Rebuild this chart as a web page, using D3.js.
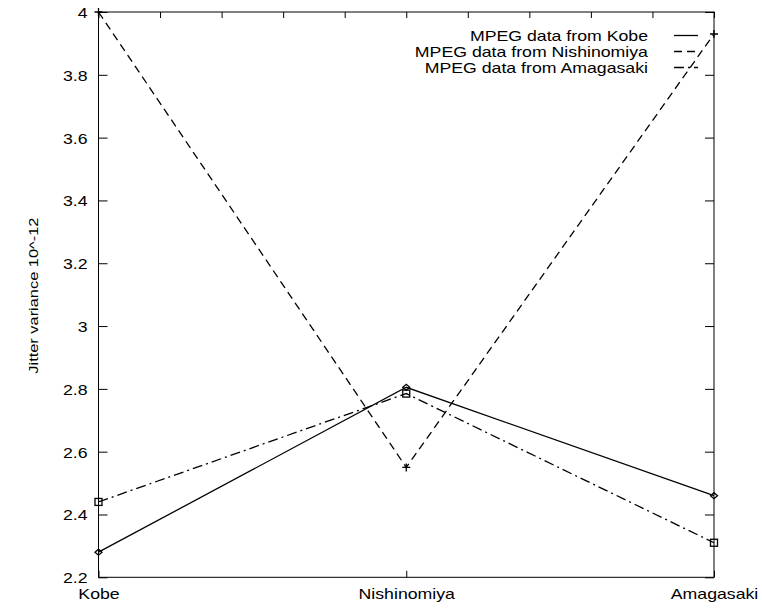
<!DOCTYPE html>
<html>
<head>
<meta charset="utf-8">
<script src="https://cdn.jsdelivr.net/npm/d3@7/dist/d3.min.js"></script>
<style>
  html, body { margin: 0; padding: 0; background: #fff; }
  svg { display: block; font-family: "Liberation Sans", Arial, Helvetica, sans-serif; }
</style>
</head>
<body>
<svg id="chart" width="762" height="609"></svg>
<script>
// Measurement sites (x categories)
const sites = ["Kobe", "Nishinomiya", "Amagasaki"];

// Jitter variance (x 10^-12) per data source
const kobeValues = [2.28, 2.805, 2.46];
const nishinomiyaValues = [4.0, 2.55, 3.93];
const amagasakiValues = [2.44, 2.785, 2.31];

const seriesNames = ["MPEG data from Kobe", "MPEG data from Nishinomiya", "MPEG data from Amagasaki"];

const yTicks = [2.2, 2.4, 2.6, 2.8, 3, 3.2, 3.4, 3.6, 3.8, 4];
const yLabel = "Jitter variance 10^-12";

const series = [
  { name: seriesNames[0], values: kobeValues, dash: null, marker: "diamond" },
  { name: seriesNames[1], values: nishinomiyaValues, dash: "8,5", marker: "plus" },
  { name: seriesNames[2], values: amagasakiValues, dash: "10,4,2,4", marker: "square" }
];

const FONT = "Liberation Sans, Arial, sans-serif";
const svg = d3.select("#chart");
const plotLeft = 98.5, plotRight = 714, plotTop = 12, plotBottom = 577.3;

const x = d3.scaleLinear().domain([0, sites.length - 1]).range([plotLeft, plotRight]);
const y = d3.scaleLinear().domain([2.2, 4]).range([plotBottom, plotTop]);

// Widen text horizontally (wide Helvetica-style lettering)
function widen(sel, factor) {
  sel.each(function () {
    const len = this.getComputedTextLength();
    d3.select(this).attr("textLength", len * factor).attr("lengthAdjust", "spacingAndGlyphs");
  });
}

const g = svg.append("g");

// Frame
g.append("rect")
  .attr("x", plotLeft).attr("y", plotTop)
  .attr("width", plotRight - plotLeft).attr("height", plotBottom - plotTop)
  .attr("fill", "none").attr("stroke", "#000").attr("stroke-width", 1);

// Left y axis with inward ticks
const yAxisL = g.append("g").attr("transform", `translate(${plotLeft},0)`)
  .call(d3.axisLeft(y).tickValues(yTicks).tickSize(-9).tickPadding(11)
    .tickFormat(d => d3.format("~g")(d)));
yAxisL.select(".domain").remove();
yAxisL.selectAll("text").attr("font-size", 15).attr("fill", "#000").attr("dy", "0.36em")
  .style("font-family", FONT);

// Right mirror ticks
const yAxisR = g.append("g").attr("transform", `translate(${plotRight},0)`)
  .call(d3.axisRight(y).tickValues(yTicks).tickSize(-9).tickFormat(""));
yAxisR.select(".domain").remove();

// Bottom x axis: category labels with inward ticks
const xAxisB = g.append("g").attr("transform", `translate(0,${plotBottom})`)
  .call(d3.axisBottom(x).tickValues(d3.range(sites.length)).tickSize(-6.5).tickPadding(0)
    .tickFormat(i => sites[i]));
xAxisB.select(".domain").remove();
xAxisB.selectAll("text").attr("font-size", 15).attr("fill", "#000")
  .attr("y", 22).attr("dy", 0)
  .style("font-family", FONT);

// Top mirror ticks at 0.2 steps
const topTicks = d3.range(0, 2.0001, 0.2);
const xAxisT = g.append("g").attr("transform", `translate(0,${plotTop})`)
  .call(d3.axisTop(x).tickValues(topTicks).tickSize(-6).tickFormat(""));
xAxisT.select(".domain").remove();

g.selectAll(".tick line").attr("stroke", "#000");

// Y axis title
const yTitle = svg.append("text")
  .attr("transform", `translate(37.5,${(plotTop + plotBottom) / 2 + 1}) rotate(-90)`)
  .attr("text-anchor", "middle")
  .attr("font-size", 12)
  .attr("fill", "#000")
  .text(yLabel);

// Lines
const line = d3.line().x((d, i) => x(i)).y(d => y(d));

series.forEach(s => {
  g.append("path")
    .datum(s.values)
    .attr("d", line)
    .attr("fill", "none")
    .attr("stroke", "#000")
    .attr("stroke-width", 1.3)
    .attr("stroke-dasharray", s.dash);
});

// Point markers
function drawMarker(sel, type, cx, cy) {
  if (type === "diamond") {
    sel.append("path")
      .attr("d", `M${cx - 3.5},${cy} L${cx},${cy - 3} L${cx + 3.5},${cy} L${cx},${cy + 3} Z`)
      .attr("fill", "none").attr("stroke", "#000").attr("stroke-width", 1.3);
  } else if (type === "square") {
    sel.append("rect")
      .attr("x", cx - 3.5).attr("y", cy - 3.5).attr("width", 7).attr("height", 7)
      .attr("fill", "none").attr("stroke", "#000").attr("stroke-width", 1.3);
  } else if (type === "plus") {
    sel.append("path")
      .attr("d", `M${cx - 4},${cy} H${cx + 4} M${cx},${cy - 4} V${cy + 4}`)
      .attr("fill", "none").attr("stroke", "#000").attr("stroke-width", 1.3);
  }
}

series.forEach(s => {
  s.values.forEach((v, i) => drawMarker(g, s.marker, x(i), y(v)));
});

// Legend
const legend = svg.append("g");
series.forEach((s, i) => {
  const ly = 35.5 + i * 16;
  legend.append("text")
    .attr("x", 648).attr("y", ly).attr("dy", "0.36em")
    .attr("text-anchor", "end")
    .attr("font-size", 15)
    .attr("fill", "#000")
    .text(s.name);
  legend.append("line")
    .attr("x1", 674).attr("x2", 698)
    .attr("y1", ly).attr("y2", ly)
    .attr("stroke", "#000").attr("stroke-width", 1.3)
    .attr("stroke-dasharray", s.dash);
});

widen(svg.selectAll(".tick text"), 1.18);
widen(legend.selectAll("text"), 1.18);
yTitle.attr("textLength", 156).attr("lengthAdjust", "spacingAndGlyphs");
</script>
</body>
</html>
